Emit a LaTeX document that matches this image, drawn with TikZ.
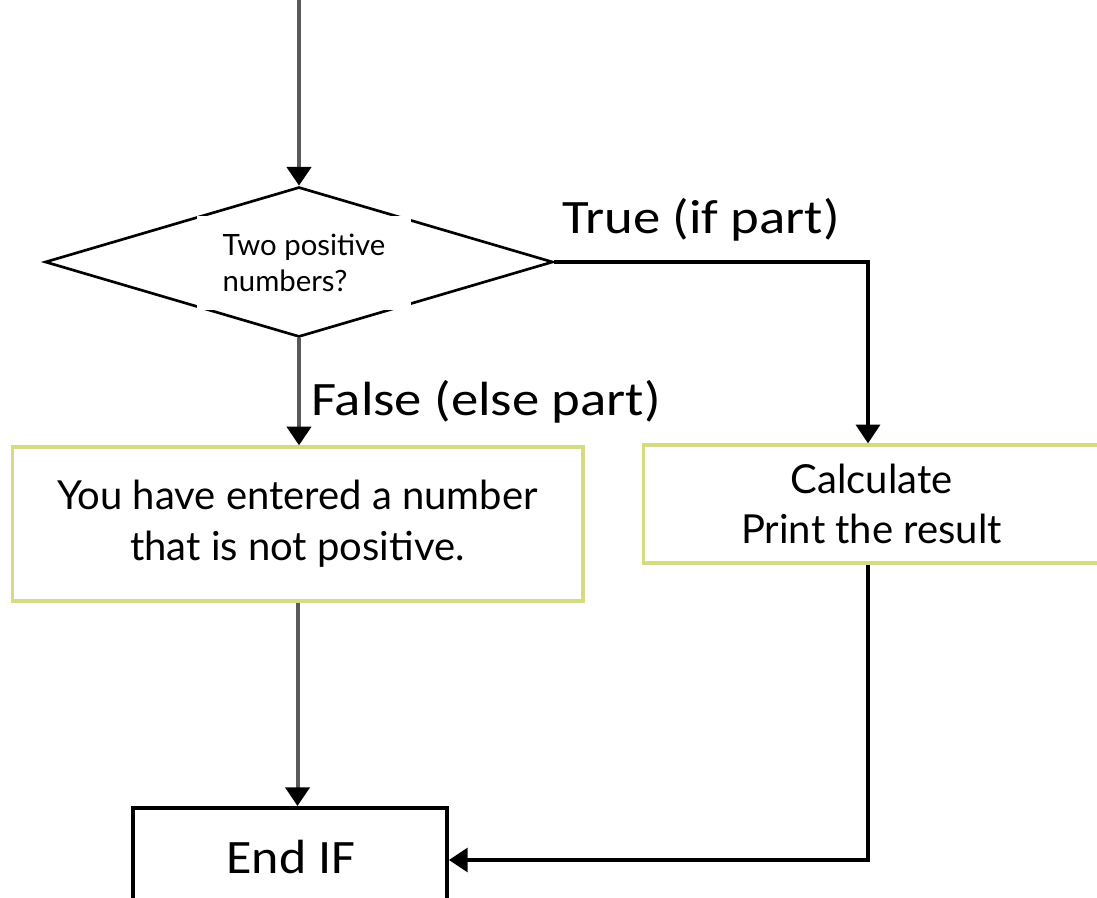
\documentclass[tikz,border=0pt]{standalone}
\usepackage{fontspec}
\setmainfont{Lato}
\newfontfamily\calib{Carlito}
\usetikzlibrary{arrows.meta,shapes.geometric,calc}
\definecolor{boxgreen}{RGB}{213,219,128}
\definecolor{lgray}{RGB}{90,90,90}
\begin{document}
\begin{tikzpicture}[x=0.75pt,y=-0.75pt,
  arr/.style={-{Triangle[length=14pt,width=18pt,color=black]}},
  gline/.style={draw=lgray,line width=3pt},
  bline/.style={draw=black,line width=2.5pt},
  procbox/.style={draw=boxgreen,line width=2.5pt,fill=white,align=center,inner sep=0pt,
     font=\fontsize{30}{38}\selectfont},
  lbl/.style={font=\calib\fontsize{36}{40}\selectfont,inner sep=0pt,xscale=1.14,transform shape}]
\useasboundingbox (0,0) rectangle (1097,898);
\coordinate (start) at (299,-5);
\node[diamond,draw=black,line width=2pt,minimum width=381pt,minimum height=112.5pt,inner sep=0pt] (dec) at (299,262) {};
\node[fill=white,minimum width=160pt,minimum height=70pt,inner sep=0pt,align=left,
  font=\fontsize{22}{26.5}\selectfont] (q) at (304,263) {Two positive\\numbers?};
\node[procbox,minimum width=428pt,minimum height=115.5pt] (nb) at (297.5,524) {You have entered a number\\that is not positive.};
\node[procbox,minimum width=342pt,minimum height=88.5pt] (cb) at (871.5,504) {Calculate\\Print the result};
\node[draw=black,line width=3pt,minimum width=235.5pt,minimum height=78pt,inner sep=0pt] (eb) at (290,860) {};
\node[lbl,xscale=0.95] (et) at (291,857) {End IF};
\node[lbl] (tl) at (701,220) {True (if part)};
\node[lbl] (fl) at (486,402) {False (else part)};
\draw[gline,arr] (start) -- (dec.north);
\draw[gline,arr] (dec.south) -- (dec.south |- nb.north);
\draw[bline,arr] (dec.east) -| ($(cb.north)+(-3.5,0)$);
\draw[gline,arr] (nb.south) -- (nb.south |- eb.north);
\draw[bline,arr] ($(cb.south)+(-3.5,0)$) |- (eb.east);
\end{tikzpicture}
\end{document}
